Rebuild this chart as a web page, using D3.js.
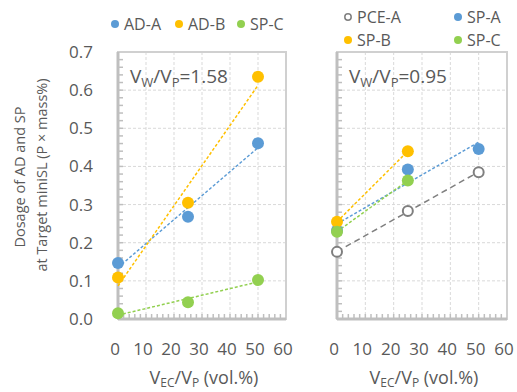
<!DOCTYPE html>
<html>
<head>
<meta charset="utf-8">
<script src="https://cdn.jsdelivr.net/npm/d3@7"></script>
<style>
  body { margin: 0; background: #fff; }
  svg text { font-family: "Open Sans", sans-serif; fill: #595959; }
</style>
</head>
<body>
<div id="chart"></div>
<script>
// data
const xTicks = [0, 10, 20, 30, 40, 50, 60];
const yTicks = [0.0, 0.1, 0.2, 0.3, 0.4, 0.5, 0.6, 0.7];

const leftX = [0, 25, 50];
const leftAD_A = [0.147, 0.268, 0.461];
const leftAD_B = [0.109, 0.305, 0.635];
const leftSP_C = [0.015, 0.044, 0.102];

const rightX3 = [0, 25, 50];
const rightX2 = [0, 25];
const rightPCE_A = [0.176, 0.283, 0.385];
const rightSP_A = [0.232, 0.392, 0.446];
const rightSP_B = [0.255, 0.44];
const rightSP_C = [0.229, 0.363];

const colors = { blue: "#5b9bd5", orange: "#ffc000", green: "#92d050", grey: "#7f7f7f" };

const width = 517, height = 392;
const svg = d3.select("#chart").append("svg")
    .attr("width", width)
    .attr("height", height);

const plotTop = 52, plotBottom = 319;

const panels = [
    {
        x0: 118, x1: 286, ratio: "1.58",
        series: [
            {name: "AD-A", xs: leftX, ys: leftAD_A, color: colors.blue},
            {name: "AD-B", xs: leftX, ys: leftAD_B, color: colors.orange},
            {name: "SP-C", xs: leftX, ys: leftSP_C, color: colors.green}
        ]
    },
    {
        x0: 337, x1: 507, ratio: "0.95",
        series: [
            {name: "PCE-A", xs: rightX3, ys: rightPCE_A, color: colors.grey, open: true},
            {name: "SP-A", xs: rightX3, ys: rightSP_A, color: colors.blue},
            {name: "SP-B", xs: rightX2, ys: rightSP_B, color: colors.orange},
            {name: "SP-C", xs: rightX2, ys: rightSP_C, color: colors.green}
        ]
    }
];

// least squares fit, like the excel trendline
function fit(xs, ys) {
    const mx = d3.mean(xs), my = d3.mean(ys);
    let num = 0, den = 0;
    xs.forEach((x, i) => { num += (x - mx) * (ys[i] - my); den += (x - mx) * (x - mx); });
    const b = num / den;
    return x => my + b * (x - mx);
}

panels.forEach(p => {
    const x = d3.scaleLinear().domain([0, 60]).range([p.x0, p.x1]);
    const y = d3.scaleLinear().domain([0, 0.7]).range([plotBottom, plotTop]);
    const g = svg.append("g");

    // gridlines
    g.selectAll("line.gx")
        .data(xTicks.slice(1, -1))
        .enter().append("line")
        .attr("x1", d => x(d)).attr("x2", d => x(d))
        .attr("y1", plotTop).attr("y2", plotBottom)
        .style("stroke", "#d9d9d9").style("stroke-dasharray", "3,2");
    g.selectAll("line.gy")
        .data(yTicks.slice(1, -1))
        .enter().append("line")
        .attr("x1", p.x0).attr("x2", p.x1)
        .attr("y1", d => y(d)).attr("y2", d => y(d))
        .style("stroke", "#d9d9d9").style("stroke-dasharray", "3,2");

    // frame
    g.append("rect")
        .attr("x", p.x0).attr("y", plotTop)
        .attr("width", p.x1 - p.x0).attr("height", plotBottom - plotTop)
        .style("fill", "none").style("stroke", "#d0d0d0").style("stroke-width", 2);

    // minor ticks, pointing inward
    g.selectAll("line.mx")
        .data(d3.range(2, 60, 2))
        .enter().append("line")
        .attr("x1", d => x(d)).attr("x2", d => x(d))
        .attr("y1", plotBottom).attr("y2", plotBottom - 5)
        .style("stroke", "#bfbfbf").style("stroke-width", 1.5);
    g.selectAll("line.my")
        .data(d3.range(0.02, 0.7, 0.02))
        .enter().append("line")
        .attr("x1", p.x0).attr("x2", p.x0 + 5)
        .attr("y1", d => y(d)).attr("y2", d => y(d))
        .style("stroke", "#bfbfbf").style("stroke-width", 1.5);

    // axis lines
    g.append("line")
        .attr("x1", p.x0).attr("x2", p.x1).attr("y1", plotBottom).attr("y2", plotBottom)
        .style("stroke", "#bfbfbf").style("stroke-width", 3);
    g.append("line")
        .attr("x1", p.x0).attr("x2", p.x0).attr("y1", plotTop).attr("y2", plotBottom)
        .style("stroke", "#bfbfbf").style("stroke-width", 3);

    // x tick labels
    g.selectAll("text.xt")
        .data(xTicks)
        .enter().append("text")
        .attr("x", d => x(d) - 3).attr("y", 355)
        .attr("text-anchor", "middle")
        .style("font-size", "17px")
        .text(d => d);

    // x title
    const xt = g.append("text")
        .attr("x", (p.x0 + p.x1) / 2 + 2).attr("y", 384)
        .attr("text-anchor", "middle")
        .style("font-size", "18px");
    xt.append("tspan").text("V");
    xt.append("tspan").attr("dy", 3).style("font-size", "12px").text("EC");
    xt.append("tspan").attr("dy", -3).text("/V");
    xt.append("tspan").attr("dy", 3).style("font-size", "12px").text("P");
    xt.append("tspan").attr("dy", -3).text(" (vol.%)");

    // ratio annotation
    const an = g.append("text")
        .attr("x", p.x0 + 12).attr("y", 83)
        .style("font-size", "19px");
    an.append("tspan").text("V");
    an.append("tspan").attr("dy", 4).style("font-size", "13px").text("W");
    an.append("tspan").attr("dy", -4).text("/V");
    an.append("tspan").attr("dy", 4).style("font-size", "13px").text("P");
    an.append("tspan").attr("dy", -4).text("=" + p.ratio);

    // trendlines
    p.series.forEach(s => {
        const f = fit(s.xs, s.ys);
        const xa = d3.min(s.xs), xb = d3.max(s.xs);
        g.append("line")
            .attr("x1", x(xa)).attr("y1", y(f(xa)))
            .attr("x2", x(xb)).attr("y2", y(f(xb)))
            .style("stroke", s.color)
            .style("stroke-width", 1.5)
            .style("stroke-dasharray", s.open ? "6,4" : "3,2");
    });

    // points
    p.series.forEach(s => {
        g.selectAll(null)
            .data(s.xs.map((d, i) => [d, s.ys[i]]))
            .enter().append("circle")
            .attr("cx", d => x(d[0])).attr("cy", d => y(d[1]))
            .attr("r", s.open ? 5 : 6)
            .style("fill", s.open ? "#fff" : s.color)
            .style("stroke", s.open ? s.color : "none")
            .style("stroke-width", 2);
    });
});

// y tick labels (left panel only)
const yL = d3.scaleLinear().domain([0, 0.7]).range([plotBottom, plotTop]);
svg.selectAll("text.yt")
    .data(yTicks)
    .enter().append("text")
    .attr("x", 93).attr("y", d => yL(d) + 6)
    .attr("text-anchor", "end")
    .style("font-size", "17px")
    .text(d => d.toFixed(1));

// y title
svg.append("text")
    .attr("transform", "translate(25,177) rotate(-90)")
    .attr("text-anchor", "middle")
    .style("font-size", "14.5px")
    .text("Dosage of AD and SP");
svg.append("text")
    .attr("transform", "translate(47,175) rotate(-90)")
    .attr("text-anchor", "middle")
    .style("font-size", "14.5px")
    .text("at Target miniSL (P \u00d7 mass%)");

// legends
const legendItems = [
    {name: "AD-A", color: colors.blue, cx: 115, cy: 24},
    {name: "AD-B", color: colors.orange, cx: 179, cy: 24},
    {name: "SP-C", color: colors.green, cx: 241, cy: 24},
    {name: "PCE-A", color: colors.grey, cx: 348, cy: 17, open: true},
    {name: "SP-A", color: colors.blue, cx: 458, cy: 17},
    {name: "SP-B", color: colors.orange, cx: 348, cy: 40},
    {name: "SP-C", color: colors.green, cx: 458, cy: 40}
];
const lg = svg.selectAll("g.leg")
    .data(legendItems)
    .enter().append("g");
lg.append("circle")
    .attr("cx", d => d.cx).attr("cy", d => d.cy)
    .attr("r", d => d.open ? 3.2 : 4)
    .style("fill", d => d.open ? "#fff" : d.color)
    .style("stroke", d => d.open ? d.color : "none")
    .style("stroke-width", 1.5);
lg.append("text")
    .attr("x", d => d.cx + 9).attr("y", d => d.cy + 6)
    .style("font-size", "16px")
    .text(d => d.name);
</script>
</body>
</html>
